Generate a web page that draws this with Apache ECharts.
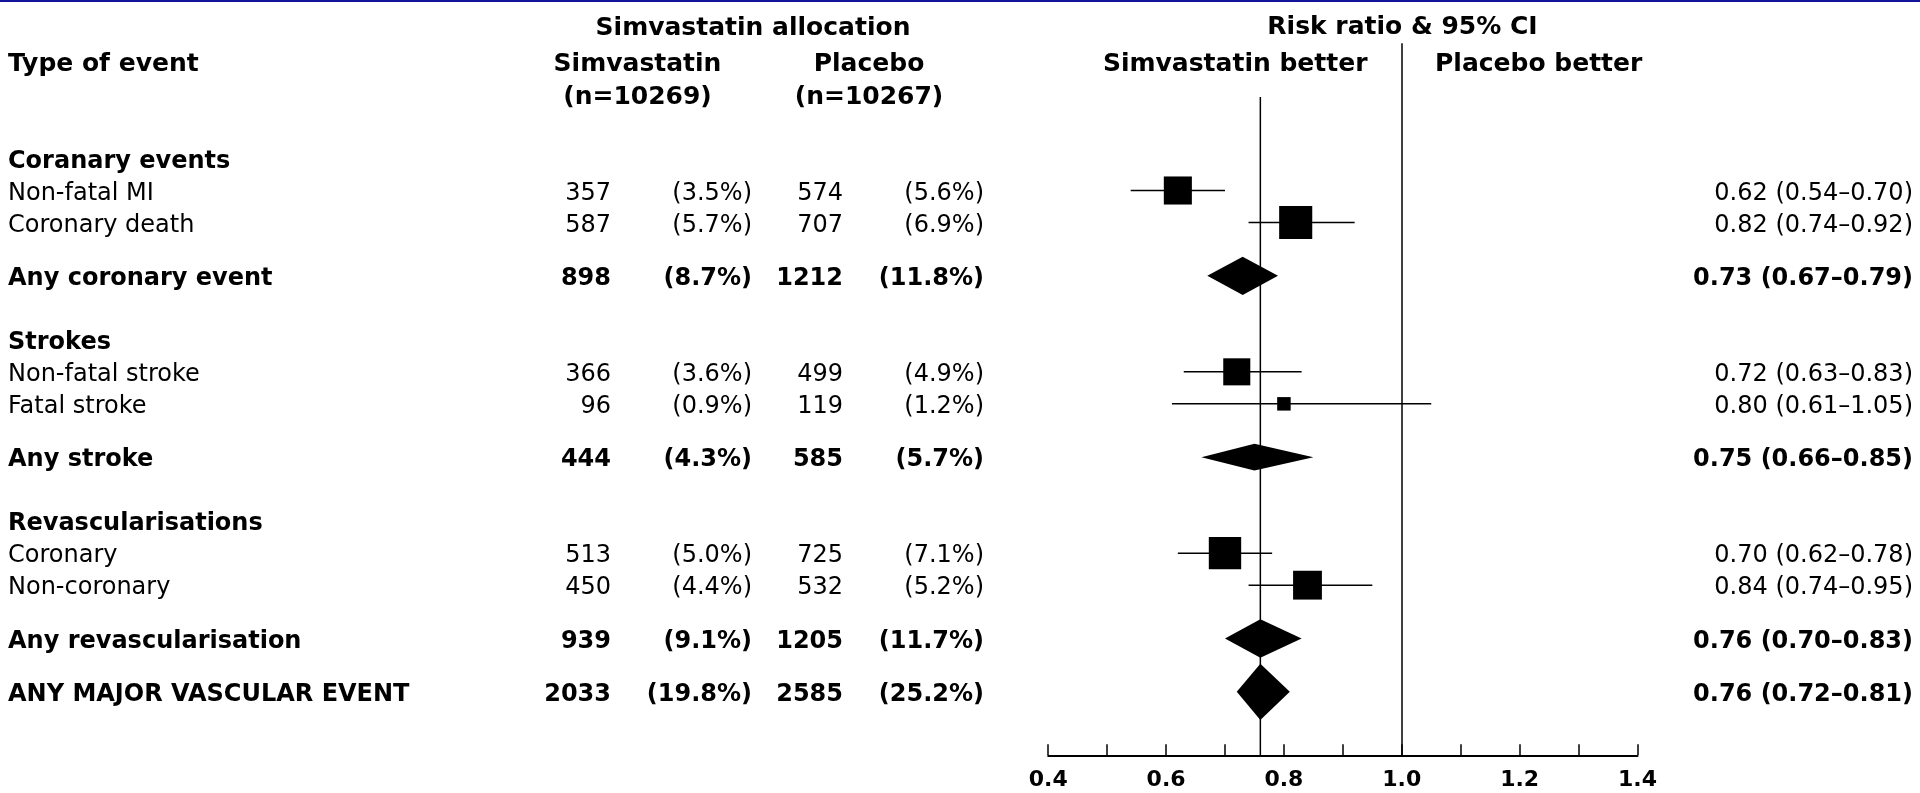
<!DOCTYPE html>
<html><head><meta charset="utf-8">
<script src="https://cdn.jsdelivr.net/npm/echarts@6/dist/echarts.min.js"></script>
<style>html,body{margin:0;padding:0;background:#fff}#c{width:1920px;height:793px}</style>
</head><body><div id="c"></div>
<script>
// ---------- data ----------
const labels = ['Coranary events','Non-fatal MI','Coronary death','Any coronary event',
  'Strokes','Non-fatal stroke','Fatal stroke','Any stroke',
  'Revascularisations','Coronary','Non-coronary','Any revascularisation','ANY MAJOR VASCULAR EVENT'];
const rowTypes = ['header','item','item','total','header','item','item','total','header','item','item','total','total'];
const simEvents = [null,357,587,898,null,366,96,444,null,513,450,939,2033];
const simPct    = [null,3.5,5.7,8.7,null,3.6,0.9,4.3,null,5.0,4.4,9.1,19.8];
const plaEvents = [null,574,707,1212,null,499,119,585,null,725,532,1205,2585];
const plaPct    = [null,5.6,6.9,11.8,null,4.9,1.2,5.7,null,7.1,5.2,11.7,25.2];
const riskRatio = [null,0.62,0.82,0.73,null,0.72,0.80,0.75,null,0.70,0.84,0.76,0.76];
const ciLow     = [null,0.54,0.74,0.67,null,0.63,0.61,0.66,null,0.62,0.74,0.70,0.72];
const ciHigh    = [null,0.70,0.92,0.79,null,0.83,1.05,0.85,null,0.78,0.95,0.83,0.81];
const xTickLabels = [0.4,0.6,0.8,1.0,1.2,1.4];
const headSimN = 10269, headPlaN = 10267;

// ---------- layout ----------
const GAP = {header:{item:1}, item:{item:1,total:5/3}, total:{header:2,total:5/3}};
const rowPos = []; let acc = 0;
rowTypes.forEach((t,i)=>{ if(i>0) acc += GAP[rowTypes[i-1]][t]; rowPos.push(acc); });
const overall = riskRatio[riskRatio.length-1];
const FONT = 'DejaVu Sans';
const SQ_K = 0.92, DI_K = 0.83;

const ciData = [], diaData = [], txtData = [];
rowTypes.forEach((t,i)=>{
  txtData.push([0.4, rowPos[i], i]);
  if (t==='item') ciData.push([riskRatio[i], rowPos[i], ciLow[i], ciHigh[i], simEvents[i]+plaEvents[i]]);
  if (t==='total') diaData.push([riskRatio[i], rowPos[i], ciLow[i], ciHigh[i], simEvents[i]+plaEvents[i]]);
});

function txt(x,y,text,bold,align,size){
  return {type:'text', style:{x:x,y:y,text:text,font:(bold?'bold ':'')+(size||24)+'px "'+FONT+'"',
    fill:'#000', align:align, verticalAlign:'middle', textAlign:align, textVerticalAlign:'middle'}};
}

const chart = echarts.init(document.getElementById('c'), null, {renderer:'canvas'});
chart.setOption({
  animation:false,
  backgroundColor:'#fff',
  grid:{left:1048.2, right:282.5, top:43.3, bottom:37.7, containLabel:false},
  xAxis:{type:'value', position:'bottom', min:0.4, max:1.4, interval:0.1,
    axisLine:{show:true, onZero:false, lineStyle:{color:'#000', width:2}},
    axisTick:{show:true, inside:true, length:11, lineStyle:{color:'#000', width:1.5}},
    axisLabel:{margin:14, color:'#000', fontFamily:FONT, fontWeight:'bold', fontSize:22,
      formatter:v=> xTickLabels.some(t=>Math.abs(t-v)<1e-9) ? v.toFixed(1) : ''},
    splitLine:{show:false}},
  yAxis:{type:'value', inverse:true, min:-3.6, max:18.65, show:false},
  graphic:[
    {type:'rect', shape:{x:0,y:0,width:1920,height:2}, style:{fill:'#14149a'}},
    txt(753,28,'Simvastatin allocation',true,'center',25),
    txt(8,64,'Type of event',true,'left',25),
    txt(637.5,64,'Simvastatin',true,'center',25),
    txt(869,64,'Placebo',true,'center',25),
    txt(637.5,97,'(n='+headSimN+')',true,'center',25),
    txt(869,97,'(n='+headPlaN+')',true,'center',25),
    txt(1402.5,27.5,'Risk ratio & 95% CI',true,'center',25),
    txt(1367.5,64,'Simvastatin better',true,'right',25),
    txt(1435,64,'Placebo better',true,'left',25)
  ],
  series:[
    {type:'line', data:[[overall,-1.925],[overall,18.65]], symbol:'none', silent:true, z:1,
      lineStyle:{color:'#000', width:1.5}},
    {type:'custom', z:3, data:ciData, encode:{x:0,y:1},
      renderItem:(params, api)=>{
        const c = api.coord([api.value(0), api.value(1)]);
        const l = api.coord([api.value(2), api.value(1)]);
        const h = api.coord([api.value(3), api.value(1)]);
        const s = SQ_K*Math.sqrt(api.value(4));
        return {type:'group', children:[
          {type:'line', shape:{x1:l[0],y1:c[1],x2:h[0],y2:c[1]}, style:{stroke:'#000', lineWidth:1.5}},
          {type:'rect', shape:{x:c[0]-s/2, y:c[1]-s/2, width:s, height:s}, style:{fill:'#000'}}
        ]};
      },
      markLine:{silent:true, symbol:'none', label:{show:false}, z:1,
        lineStyle:{color:'#000', width:1.5, type:'solid'}, data:[{xAxis:1}]}
    },
    {type:'custom', z:3, data:diaData, encode:{x:0,y:1},
      renderItem:(params, api)=>{
        const c = api.coord([api.value(0), api.value(1)]);
        const l = api.coord([api.value(2), api.value(1)]);
        const h = api.coord([api.value(3), api.value(1)]);
        const hh = DI_K*Math.sqrt(api.value(4))/2;
        return {type:'polygon', shape:{points:[[l[0],c[1]],[c[0],c[1]-hh],[h[0],c[1]],[c[0],c[1]+hh]]},
          style:{fill:'#000'}};
      }
    },
    {type:'custom', z:4, data:txtData, encode:{x:0,y:1}, clip:false, silent:true,
      renderItem:(params, api)=>{
        const i = api.value(2);
        const y = api.coord([0.4, api.value(1)])[1] + 3;
        const t = rowTypes[i];
        const bold = t!=='item';
        const ch = [txt(8, y, labels[i], bold, 'left')];
        if (t!=='header'){
          ch.push(txt(611, y, String(simEvents[i]), bold, 'right'));
          ch.push(txt(752, y, '('+simPct[i].toFixed(1)+'%)', bold, 'right'));
          ch.push(txt(843, y, String(plaEvents[i]), bold, 'right'));
          ch.push(txt(984, y, '('+plaPct[i].toFixed(1)+'%)', bold, 'right'));
          ch.push(txt(1913, y, riskRatio[i].toFixed(2)+' ('+ciLow[i].toFixed(2)+'\u2013'+ciHigh[i].toFixed(2)+')', bold, 'right'));
        }
        return {type:'group', children:ch};
      }
    }
  ]
});
</script>
</body></html>
